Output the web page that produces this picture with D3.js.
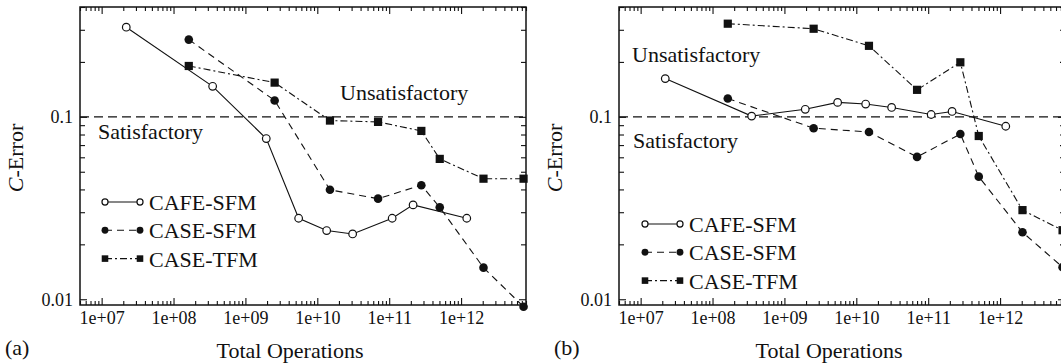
<!DOCTYPE html>
<html>
<head>
<meta charset="utf-8">
<script src="https://cdn.jsdelivr.net/npm/d3@7"></script>
<style>
body{margin:0;background:#fff}
svg{display:block;font-family:"Liberation Serif","Times New Roman",serif}
</style>
</head>
<body>
<script>
// operation counts (x), shared by both panels
var cafeOps=[2.2e7,3.5e8,1.95e9,5.5e9,1.35e10,3.1e10,1.1e11,2.15e11,1.2e12]
var caseOps=[1.63e8,2.55e9,1.5e10,7e10,2.8e11,5.05e11,2.05e12,7.4e12]

// panel (a) errors
var cafeSfmA=[0.31,0.147,0.076,0.0278,0.0238,0.0228,0.0278,0.0329,0.0278]
var caseSfmA=[0.265,0.123,0.0398,0.0356,0.0422,0.0319,0.0149,0.0091]
var caseTfmA=[0.19,0.154,0.0954,0.0938,0.0837,0.0588,0.0458,0.0458]

// panel (b) errors
var cafeSfmB=[0.162,0.1009,0.110,0.120,0.1175,0.1126,0.103,0.107,0.0888]
var caseSfmB=[0.126,0.0866,0.0826,0.0603,0.0805,0.047,0.0233,0.015]
var caseTfmB=[0.324,0.304,0.245,0.1406,0.199,0.0785,0.0308,0.0239]

var xMajor=[1e7,1e8,1e9,1e10,1e11,1e12]
var xLabels=["1e+07","1e+08","1e+09","1e+10","1e+11","1e+12"]
var yMajor=[0.01,0.1]
var yLabels=["0.01","0.1"]
var seriesNames=["CAFE-SFM","CASE-SFM","CASE-TFM"]
var threshold=0.1

var W=446,H=298
var svg=d3.select("body").append("svg").attr("width",1061).attr("height",364)

var x=d3.scaleLog().domain([5e6,8e12]).range([0,W])
var y=d3.scaleLog().domain([0.0093,0.4]).range([H,0])

var styles=[
	{dash:null,marker:"open"},
	{dash:"7,5",marker:"dot"},
	{dash:"7,3,2,3",marker:"square"}
]

drawPanel(80,7,"(a)",5,[cafeSfmA,caseSfmA,caseTfmA],{un:[340,100],sat:[98,139],leg:[105,202]})
drawPanel(619,7,"(b)",554,[cafeSfmB,caseSfmB,caseTfmB],{un:[632,62],sat:[633,148],leg:[645,224]})

function drawPanel(left,top,tag,tagX,errs,pos){
	var g=svg.append("g").attr("transform","translate("+left+","+top+")")

	var xMinor=x.ticks().filter(function(v){return xMajor.indexOf(v)<0})
	var yMinor=y.ticks().filter(function(v){return yMajor.indexOf(v)<0})

	// bottom
	g.append("g").attr("transform","translate(0,"+H+")")
		.call(d3.axisBottom(x).tickValues(xMajor).tickSize(-7).tickPadding(6)
			.tickFormat(function(d,i){return xLabels[i]}))
	g.append("g").attr("transform","translate(0,"+H+")")
		.call(d3.axisBottom(x).tickValues(xMinor).tickSize(-4).tickFormat(""))
	// top
	g.append("g").call(d3.axisTop(x).tickValues(xMajor).tickSize(-7).tickFormat(""))
	g.append("g").call(d3.axisTop(x).tickValues(xMinor).tickSize(-4).tickFormat(""))
	// left
	g.append("g").call(d3.axisLeft(y).tickValues(yMajor).tickSize(-7).tickPadding(7)
		.tickFormat(function(d,i){return yLabels[i]}))
	g.append("g").call(d3.axisLeft(y).tickValues(yMinor).tickSize(-5).tickFormat(""))
	// right
	g.append("g").attr("transform","translate("+W+",0)")
		.call(d3.axisRight(y).tickValues(yMajor).tickSize(-7).tickFormat(""))
	g.append("g").attr("transform","translate("+W+",0)")
		.call(d3.axisRight(y).tickValues(yMinor).tickSize(-5).tickFormat(""))

	g.selectAll(".domain").remove()
	g.selectAll(".tick line").attr("stroke","#111").attr("stroke-width",1.1)
	g.selectAll(".tick text").attr("font-family","Liberation Serif").attr("font-size",18).attr("fill","#111")

	g.append("rect").attr("width",W).attr("height",H)
		.attr("fill","none").attr("stroke","#111").attr("stroke-width",1.5)

	// satisfactory line
	g.append("line").attr("x1",0).attr("x2",W).attr("y1",y(threshold)).attr("y2",y(threshold))
		.attr("stroke","#111").attr("stroke-width",1.3).attr("stroke-dasharray","9,5")

	var ops=[cafeOps,caseOps,caseOps]
	var line=d3.line().x(function(d){return x(d[0])}).y(function(d){return y(d[1])})
	errs.forEach(function(e,k){
		var pts=e.map(function(v,i){return [ops[k][i],v]})
		g.append("path").attr("d",line(pts)).attr("fill","none").attr("stroke","#111")
			.attr("stroke-width",1.1).attr("stroke-dasharray",styles[k].dash)
		pts.forEach(function(p){marker(g,x(p[0]),y(p[1]),styles[k].marker,1)})
	})

	// labels inside
	svg.append("text").attr("x",pos.un[0]).attr("y",pos.un[1]).attr("font-size",22).attr("fill","#111").text("Unsatisfactory")
	svg.append("text").attr("x",pos.sat[0]).attr("y",pos.sat[1]).attr("font-size",22).attr("fill","#111").text("Satisfactory")

	// legend
	seriesNames.forEach(function(n,k){
		var ly=pos.leg[1]+k*28.3
		svg.append("line").attr("x1",pos.leg[0]).attr("x2",pos.leg[0]+35).attr("y1",ly).attr("y2",ly)
			.attr("stroke","#111").attr("stroke-width",1.1).attr("stroke-dasharray",styles[k].dash)
		marker(svg,pos.leg[0],ly,styles[k].marker,0.8)
		marker(svg,pos.leg[0]+35,ly,styles[k].marker,0.8)
		svg.append("text").attr("x",pos.leg[0]+44).attr("y",ly+8).attr("font-size",22).attr("fill","#111").text(n)
	})

	// axis titles
	var cx=left+W/2-13
	svg.append("text").attr("x",cx).attr("y",358).attr("text-anchor","middle").attr("font-size",22).attr("fill","#111").text("Total Operations")
	svg.append("text").attr("x",tagX).attr("y",355).attr("font-size",22).attr("fill","#111").text(tag)
	var yt=svg.append("text").attr("transform","translate("+(left-57)+",158) rotate(-90)")
		.attr("text-anchor","middle").attr("font-size",22).attr("fill","#111")
	yt.append("tspan").attr("font-style","italic").text("C")
	yt.append("tspan").text("-Error")
}

function marker(parent,cx,cy,type,s){
	if(type=="square"){
		parent.append("rect").attr("x",cx-4.1*s).attr("y",cy-4.1*s).attr("width",8.2*s).attr("height",8.2*s).attr("fill","#111")
	}else if(type=="dot"){
		parent.append("circle").attr("cx",cx).attr("cy",cy).attr("r",4.3*s).attr("fill","#111")
	}else{
		parent.append("circle").attr("cx",cx).attr("cy",cy).attr("r",3.8*s).attr("fill","#fff").attr("stroke","#111").attr("stroke-width",1.2)
	}
}
</script>
</body>
</html>
